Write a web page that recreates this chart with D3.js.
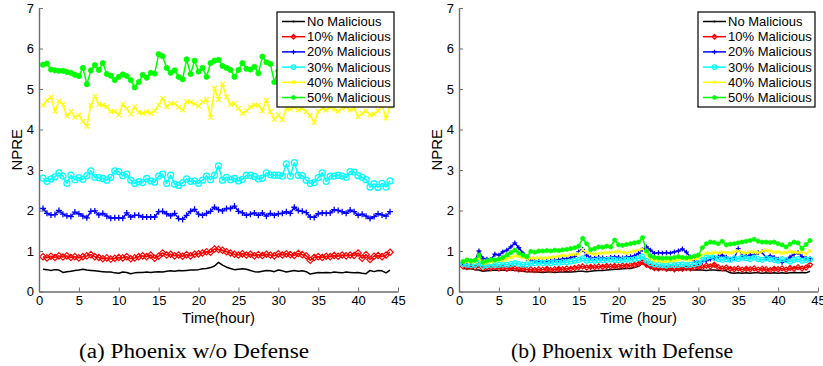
<!DOCTYPE html>
<html>
<head>
<meta charset="utf-8">
<script src="https://cdn.jsdelivr.net/npm/d3@7"></script>
<style>
  body { margin: 0; background: #fff; }
  svg text { font-family: "Liberation Sans", Arial, sans-serif; }
  .caption { font-family: "Liberation Serif", "Times New Roman", serif !important; }
</style>
</head>
<body>
<svg id="chart" width="823" height="366"></svg>
<script>
// sample times, one every half hour
const times = d3.range(0.5, 44.001, 0.5);

const seriesNames = ["No Malicious", "10% Malicious", "20% Malicious", "30% Malicious", "40% Malicious", "50% Malicious"];
const seriesColors = ["#000000", "#ff0000", "#0000ff", "#00ffff", "#ffff00", "#00ff00"];
const seriesMarkers = ["none", "diamond", "plus", "circle", "x", "dot"];
const xTicks = [0, 5, 10, 15, 20, 25, 30, 35, 40, 45];
const yTicks = [0, 1, 2, 3, 4, 5, 6, 7];

// (a) Phoenix w/o Defense
const noDefNone = [
  0.55,0.54,0.52,0.54,0.53,0.47,0.49,0.50,0.52,0.53,
  0.55,0.53,0.52,0.51,0.50,0.49,0.48,0.48,0.46,0.45,
  0.48,0.47,0.44,0.46,0.47,0.47,0.48,0.47,0.48,0.49,
  0.48,0.50,0.51,0.50,0.52,0.51,0.52,0.53,0.53,0.54,
  0.56,0.57,0.59,0.63,0.72,0.65,0.60,0.57,0.54,0.55,
  0.56,0.55,0.52,0.49,0.48,0.50,0.52,0.51,0.49,0.53,
  0.51,0.48,0.50,0.52,0.50,0.51,0.49,0.43,0.45,0.47,
  0.46,0.47,0.46,0.48,0.47,0.46,0.48,0.47,0.46,0.47,
  0.45,0.44,0.52,0.49,0.52,0.51,0.46,0.53];
const noDef10 = [
  0.86,0.83,0.87,0.84,0.88,0.85,0.88,0.84,0.86,0.83,
  0.86,0.88,0.91,0.86,0.84,0.81,0.83,0.80,0.82,0.84,
  0.83,0.86,0.81,0.83,0.86,0.88,0.86,0.90,0.82,0.87,
  0.95,0.90,0.92,0.88,0.90,0.87,0.91,0.88,0.92,0.93,
  0.95,0.98,0.97,1.05,1.04,1.02,0.98,0.95,0.92,0.90,
  0.93,0.90,0.92,0.88,0.91,0.89,0.92,0.90,0.88,0.93,
  0.90,0.93,0.91,0.89,0.94,0.91,0.88,0.77,0.84,0.86,
  0.84,0.87,0.86,0.89,0.87,0.90,0.88,0.90,0.89,0.95,
  0.82,0.91,0.79,0.87,0.89,0.86,0.90,0.97];
const noDef20 = [
  2.05,1.93,1.89,1.90,2.00,1.91,1.87,1.85,1.96,1.92,
  1.86,1.82,1.98,1.99,1.89,1.93,1.86,1.81,1.82,1.82,
  1.81,1.94,1.84,1.88,1.88,1.84,1.84,1.84,1.84,1.97,
  1.98,1.92,1.87,1.93,1.80,1.78,1.88,1.98,2.03,1.91,
  1.88,1.93,1.98,2.08,2.02,1.99,2.05,2.05,2.11,1.98,
  1.94,1.88,1.91,1.94,1.88,1.94,1.86,1.93,1.88,1.92,
  1.93,1.97,1.93,2.08,2.00,1.98,1.95,1.84,1.83,1.92,
  1.94,1.93,1.94,2.02,2.00,1.97,1.93,2.01,1.97,1.88,
  1.91,1.86,1.80,1.85,1.92,1.89,1.86,1.97];
const noDef30 = [
  2.80,2.72,2.78,2.83,2.93,2.85,2.67,2.87,2.76,2.81,
  2.77,2.86,2.98,2.82,2.81,2.79,2.75,2.82,2.98,2.96,
  2.86,2.90,2.75,2.67,2.71,2.69,2.79,2.73,2.70,2.85,
  2.90,2.67,2.87,2.65,2.62,2.68,2.78,2.72,2.73,2.67,
  2.75,2.85,2.76,2.87,3.10,2.75,2.82,2.76,2.79,2.73,
  2.77,2.87,2.87,2.84,2.78,2.80,2.93,2.88,2.87,2.87,
  2.85,3.15,2.85,3.18,2.87,2.86,2.75,2.67,2.69,2.81,
  2.93,2.72,2.85,2.85,2.87,2.85,2.82,2.96,2.95,2.86,
  2.82,2.76,2.58,2.66,2.57,2.67,2.58,2.73];
const noDef40 = [
  4.60,4.72,4.80,4.45,4.70,4.62,4.33,4.44,4.30,4.36,
  4.20,4.08,4.60,4.82,4.62,4.60,4.56,4.44,4.45,4.36,
  4.62,4.52,4.38,4.56,4.42,4.40,4.44,4.40,4.46,4.60,
  4.77,4.56,4.64,4.64,4.55,4.48,4.69,4.68,4.63,4.58,
  4.68,4.74,4.30,5.02,4.74,5.12,4.80,4.62,4.64,4.52,
  4.40,4.46,4.56,4.60,4.60,4.46,4.72,4.44,4.25,4.36,
  4.24,4.52,4.50,4.56,4.48,4.52,4.44,4.35,4.17,4.44,
  4.52,4.48,4.55,4.50,4.45,4.52,4.56,4.48,4.52,4.32,
  4.40,4.46,4.36,4.38,4.46,4.60,4.28,4.56];
const noDef50 = [
  5.60,5.63,5.48,5.46,5.45,5.45,5.42,5.40,5.35,5.32,
  5.52,5.12,5.46,5.59,5.47,5.64,5.37,5.33,5.22,5.30,
  5.36,5.32,5.22,5.04,5.17,5.35,5.28,5.40,5.38,5.86,
  5.81,5.52,5.40,5.46,5.30,5.24,5.73,5.37,5.70,5.43,
  5.52,5.30,5.64,5.70,5.72,5.57,5.52,5.47,5.30,5.47,
  5.64,5.50,5.48,5.55,5.39,5.80,5.66,5.62,5.17,5.45,
  5.55,5.50,5.62,5.48,5.55,5.42,5.50,5.36,5.40,5.55,
  5.50,5.60,5.45,5.52,5.58,5.44,5.50,5.62,5.48,5.55,
  5.40,5.50,5.58,5.45,5.52,5.60,5.50,5.55];

// (b) Phoenix with Defense
const defNone = [
  0.57,0.56,0.56,0.54,0.53,0.50,0.51,0.52,0.53,0.52,
  0.53,0.52,0.53,0.52,0.51,0.50,0.49,0.49,0.48,0.48,
  0.47,0.48,0.48,0.47,0.48,0.48,0.49,0.48,0.49,0.50,
  0.50,0.49,0.50,0.51,0.52,0.52,0.53,0.54,0.55,0.55,
  0.56,0.57,0.57,0.59,0.62,0.70,0.64,0.58,0.55,0.54,
  0.55,0.54,0.53,0.54,0.53,0.54,0.55,0.54,0.53,0.54,
  0.53,0.52,0.53,0.53,0.52,0.52,0.51,0.46,0.45,0.46,
  0.45,0.46,0.45,0.46,0.46,0.45,0.46,0.45,0.46,0.45,
  0.46,0.45,0.46,0.47,0.46,0.47,0.46,0.50];
const def10 = [
  0.62,0.60,0.62,0.59,0.65,0.57,0.59,0.58,0.60,0.57,
  0.59,0.56,0.58,0.57,0.55,0.56,0.54,0.55,0.53,0.55,
  0.54,0.56,0.53,0.55,0.56,0.55,0.57,0.56,0.58,0.60,
  0.62,0.59,0.61,0.60,0.62,0.61,0.63,0.62,0.63,0.62,
  0.64,0.63,0.65,0.66,0.68,0.73,0.66,0.62,0.58,0.57,
  0.59,0.56,0.58,0.55,0.57,0.56,0.58,0.57,0.59,0.61,
  0.60,0.64,0.62,0.66,0.60,0.57,0.59,0.56,0.55,0.57,
  0.54,0.56,0.55,0.57,0.54,0.56,0.55,0.53,0.56,0.55,
  0.57,0.54,0.58,0.56,0.60,0.57,0.59,0.66];
const def20 = [
  0.70,0.72,0.74,0.76,1.00,0.82,0.80,0.79,0.92,0.90,
  0.98,1.02,1.10,1.20,1.08,0.95,0.82,0.78,0.76,0.75,
  0.74,0.75,0.76,0.77,0.78,0.80,0.82,0.84,0.87,0.98,
  1.04,0.90,0.83,0.82,0.84,0.83,0.82,0.84,0.85,0.84,
  0.83,0.85,0.86,0.88,0.94,1.04,1.10,1.02,0.94,0.96,
  0.95,0.96,0.95,0.98,1.00,1.05,0.97,0.85,0.76,0.72,
  0.74,0.76,0.80,0.82,0.86,0.90,0.85,0.80,0.82,1.06,
  0.88,0.90,0.89,0.92,0.96,0.98,0.82,0.88,0.84,0.80,
  0.72,0.78,0.85,0.92,0.96,0.86,0.82,0.81];
const def30 = [
  0.68,0.66,0.65,0.66,0.70,0.63,0.65,0.66,0.65,0.66,
  0.67,0.66,0.68,0.70,0.68,0.66,0.67,0.69,0.70,0.71,
  0.70,0.71,0.70,0.72,0.71,0.73,0.72,0.74,0.76,0.78,
  0.82,0.76,0.77,0.76,0.78,0.77,0.78,0.79,0.78,0.77,
  0.78,0.79,0.78,0.80,0.82,0.86,0.76,0.70,0.67,0.66,
  0.65,0.64,0.66,0.65,0.66,0.67,0.65,0.66,0.67,0.70,
  0.78,0.84,0.88,0.83,0.80,0.78,0.80,0.78,0.82,0.80,
  0.84,0.82,0.80,0.84,0.80,0.78,0.82,0.80,0.78,0.76,
  0.80,0.77,0.74,0.78,0.80,0.76,0.78,0.79];
const def40 = [
  0.74,0.74,0.73,0.75,0.82,0.70,0.72,0.74,0.76,0.78,
  0.77,0.80,0.84,0.88,0.87,0.84,0.80,0.82,0.82,0.83,
  0.82,0.83,0.84,0.85,0.87,0.89,0.88,0.91,0.92,0.93,
  1.04,0.96,0.94,0.92,0.94,0.95,0.96,0.96,0.98,0.99,
  0.97,0.95,0.98,1.00,1.02,1.06,0.90,0.80,0.76,0.75,
  0.74,0.74,0.75,0.76,0.78,0.80,0.79,0.78,0.80,0.82,
  0.90,0.95,0.94,0.96,0.95,0.97,0.96,0.95,0.98,1.00,
  0.97,0.95,0.98,0.97,0.96,0.99,1.02,1.00,0.97,0.98,
  0.95,0.96,0.99,0.97,0.96,0.98,0.93,1.00];
const def50 = [
  0.74,0.78,0.76,0.77,0.90,0.72,0.76,0.79,0.78,0.80,
  0.84,0.90,0.96,1.02,0.95,0.90,0.86,0.99,0.97,1.00,
  1.00,1.01,1.00,1.02,1.01,1.03,1.04,1.06,1.08,1.12,
  1.31,1.18,1.03,1.06,1.10,1.09,1.12,1.10,1.27,1.15,
  1.14,1.16,1.18,1.20,1.22,1.33,1.00,0.88,0.84,0.83,
  0.82,0.83,0.82,0.84,0.86,0.84,0.83,0.85,0.87,0.90,
  1.08,1.18,1.22,1.21,1.18,1.24,1.15,1.17,1.18,1.20,
  1.22,1.24,1.26,1.29,1.24,1.22,1.22,1.21,1.22,1.18,
  1.15,1.10,1.17,1.22,1.20,1.06,1.16,1.26];

const panels = [
  { left: 39, right: 398, xLabel: "Time(hour)", caption: "(a) Phoenix w/o Defense", markerScale: 1,
    series: [noDefNone, noDef10, noDef20, noDef30, noDef40, noDef50], legendX: 277,
    capX: 194, capW: 230 },
  { left: 459, right: 818, xLabel: "Time (hour)", caption: "(b) Phoenix with Defense", markerScale: 0.8,
    series: [defNone, def10, def20, def30, def40, def50], legendX: 698,
    capX: 622, capW: 222 }
];

const plotTop = 8, plotBottom = 291.5;
const svg = d3.select("#chart");

function drawMarker(sel, type, color, s) {
  if (type === "dot") {
    sel.append("circle").attr("r", 2.6 * s).attr("fill", color).attr("stroke", color).attr("stroke-width", 0.8);
  } else if (type === "circle") {
    sel.append("circle").attr("r", 3 * s).attr("fill", "none").attr("stroke", color).attr("stroke-width", 1.3);
  } else if (type === "diamond") {
    const r = 3.2 * s;
    sel.append("path").attr("d", `M0,${-r}L${r},0L0,${r}L${-r},0Z`)
      .attr("fill", "none").attr("stroke", color).attr("stroke-width", 1.2);
  } else if (type === "plus") {
    const r = 3 * s;
    sel.append("path").attr("d", `M${-r},0H${r}M0,${-r}V${r}`)
      .attr("stroke", color).attr("stroke-width", 1.3);
  } else if (type === "x") {
    const r = 2.2 * s;
    sel.append("path").attr("d", `M${-r},${-r}L${r},${r}M${-r},${r}L${r},${-r}`)
      .attr("stroke", color).attr("stroke-width", 1.2);
  }
}

panels.forEach(p => {
  const x = d3.scaleLinear().domain([0, 45]).range([p.left, p.right]);
  const y = d3.scaleLinear().domain([0, 7]).range([plotBottom, plotTop]);
  const g = svg.append("g");

  // series, drawn in legend order so green ends up on top
  p.series.forEach((vals, i) => {
    const pts = vals.map((v, k) => [times[k], v]);
    const line = d3.line().x(d => x(d[0])).y(d => y(d[1]));
    g.append("path").datum(pts).attr("d", line)
      .attr("fill", "none").attr("stroke", seriesColors[i]).attr("stroke-width", 1.5)
      .attr("stroke-linejoin", "round");
    if (seriesMarkers[i] !== "none") {
      const mk = g.append("g");
      pts.forEach(d => {
        const m = mk.append("g").attr("transform", `translate(${x(d[0])},${y(d[1])})`);
        drawMarker(m, seriesMarkers[i], seriesColors[i], p.markerScale);
      });
    }
  });

  // axes (MATLAB style, ticks pointing inward, no box)
  const ya = g.append("g").attr("transform", `translate(${p.left},0)`)
    .call(d3.axisLeft(y).tickValues(yTicks).tickFormat(d3.format("d"))
      .tickSizeInner(-4).tickSizeOuter(0).tickPadding(5));
  const xa = g.append("g").attr("transform", `translate(0,${plotBottom})`)
    .call(d3.axisBottom(x).tickValues(xTicks).tickFormat(d3.format("d"))
      .tickSizeInner(-4).tickSizeOuter(0).tickPadding(4));
  [ya, xa].forEach(a => {
    a.select(".domain").attr("stroke", "#6e6e6e").attr("stroke-width", 1.4);
    a.selectAll(".tick line").attr("stroke", "#6e6e6e");
    a.selectAll(".tick text").attr("fill", "#000").style("font-size", "13px");
  });

  // axis titles
  g.append("text").attr("transform", `translate(${p.left - 17},${(plotTop + plotBottom) / 2}) rotate(-90)`)
    .attr("text-anchor", "middle").style("font-size", "15px").text("NPRE");
  g.append("text").attr("x", (p.left + p.right) / 2).attr("y", 323)
    .attr("text-anchor", "middle").style("font-size", "15px").text(p.xLabel);

  // legend
  const lg = g.append("g").attr("transform", `translate(${p.legendX},12)`);
  lg.append("rect").attr("width", 117).attr("height", 95)
    .attr("fill", "#fff").attr("stroke", "#000").attr("stroke-width", 1.2);
  seriesNames.forEach((name, i) => {
    const yy = 9.5 + i * 15.2;
    lg.append("line").attr("x1", 5).attr("x2", 28).attr("y1", yy).attr("y2", yy)
      .attr("stroke", seriesColors[i]).attr("stroke-width", 1.5);
    const m = lg.append("g").attr("transform", `translate(16.5,${yy})`);
    if (seriesMarkers[i] === "none") {
      m.append("circle").attr("r", 1).attr("fill", "#000");
    } else {
      drawMarker(m, seriesMarkers[i], seriesColors[i], 0.75);
    }
    lg.append("text").attr("x", 30).attr("y", yy).attr("dy", "0.35em")
      .style("font-size", "13px").text(name);
  });

  // caption
  svg.append("text").attr("class", "caption")
    .attr("x", p.capX).attr("y", 358)
    .attr("text-anchor", "middle").attr("textLength", p.capW).attr("lengthAdjust", "spacingAndGlyphs")
    .style("font-size", "20px").text(p.caption);
});
</script>
</body>
</html>
